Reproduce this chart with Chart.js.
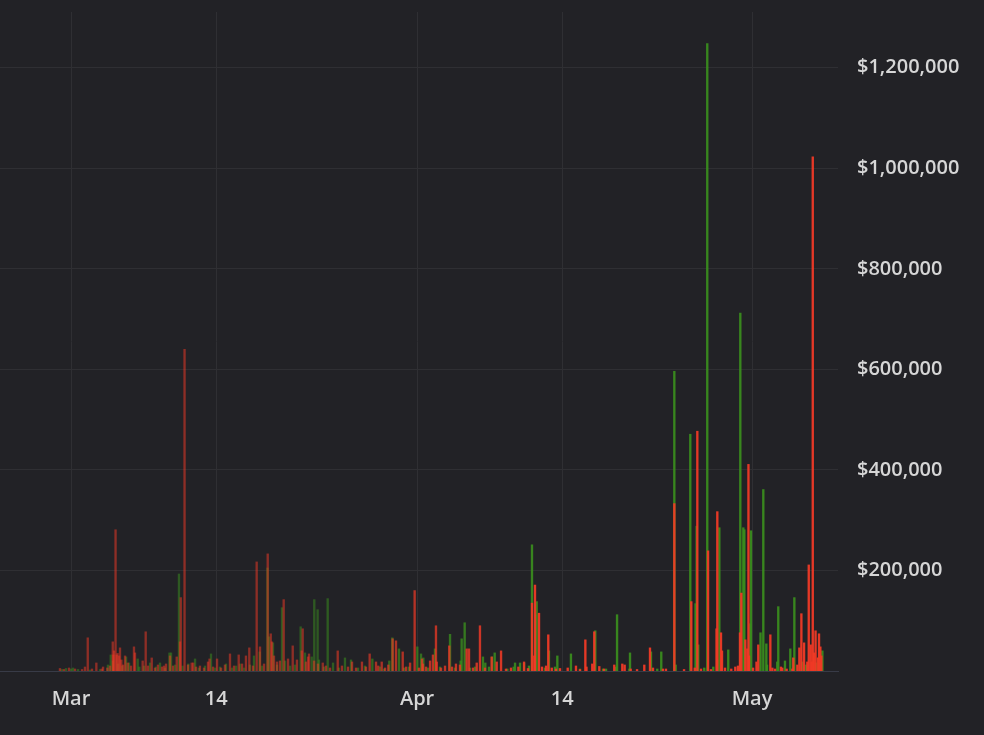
<!DOCTYPE html>
<html>
<head>
<meta charset="utf-8">
<script src="https://cdn.jsdelivr.net/npm/chart.js@4.4.1/dist/chart.umd.min.js"></script>
<style>
  html, body { margin: 0; padding: 0; background: #222226; }
  #wrap { width: 984px; height: 735px; position: relative; }
</style>
</head>
<body>
<div id="wrap"><canvas id="volumeChart"></canvas></div>
<script>
// x = days since Mar 1, volume in thousands of $
var sellDays = [
  -0.99, -0.63, -0.18, 0.36, 0.99, 1.25, 1.50, 1.88, 2.27, 2.75, 2.87, 3.25, 3.49, 3.74, 3.79, 3.85,
  3.99, 4.09, 4.17, 4.30, 4.39, 4.51, 4.66, 4.84, 5.08, 5.37, 5.64, 5.73, 6.42, 6.69, 6.90, 7.23,
  7.52, 7.79, 8.15, 8.33, 8.51, 8.87, 9.14, 9.47, 9.76, 9.83, 10.17, 10.48, 10.81, 10.95, 11.20, 11.55,
  11.91, 12.27, 12.41, 12.72, 13.08, 13.44, 13.79, 14.24, 14.60, 15.02, 15.32, 15.67, 15.97, 16.30, 16.63, 16.93,
  17.29, 17.62, 17.89, 18.00, 18.18, 18.45, 18.72, 19.05, 19.44, 19.86, 20.24, 20.66, 20.75, 21.05, 21.23, 21.32,
  21.77, 22.12, 22.55, 22.84, 23.20, 23.89, 24.27, 24.81, 25.17, 25.53, 26.06, 26.42, 26.75, 27.32, 27.52, 27.83,
  28.13, 28.42, 28.81, 29.11, 29.71, 30.01, 30.37, 30.78, 31.17, 31.44, 31.53, 31.80, 32.16, 32.42, 32.69, 32.76,
  33.14, 33.50, 33.88, 34.13, 34.48, 34.84, 35.44, 35.65, 36.01, 36.34, 36.63, 37.08, 37.68, 38.13, 38.52, 38.96,
  39.41, 40.07, 40.58, 40.93, 41.29, 41.50, 41.56, 41.92, 42.19, 42.55, 42.75, 43.06, 43.44, 43.80, 44.49, 45.23,
  45.59, 46.07, 46.17, 46.69, 46.87, 47.32, 47.74, 48.66, 49.38, 49.59, 50.13, 50.70, 51.35, 51.86, 52.13, 53.02,
  53.29, 54.04, 54.91, 55.56, 55.87, 56.10, 56.43, 57.06, 57.32, 57.82, 57.89, 58.22, 58.31, 58.58, 59.14, 59.50,
  59.74, 59.92, 60.04, 60.40, 60.58, 60.68, 60.73, 61.09, 61.40, 61.56, 62.64, 62.82, 63.06, 63.59, 63.71, 64.10,
  64.61, 64.70, 65.06, 65.24, 65.42, 65.66, 65.95, 66.08, 66.26, 66.35, 66.44, 66.55, 66.69, 66.89, 67.00, 67.12,
  67.21
];
var sellVolume = [
  5, 3, 6, 4, 3, 8, 66, 4, 16, 4, 8, 6, 10, 58, 32, 40,
  281, 32, 35, 30, 46, 22, 12, 30, 16, 10, 48, 36, 20, 78, 10, 26,
  6, 12, 8, 10, 14, 30, 10, 28, 58, 146, 640, 12, 16, 16, 8, 10,
  6, 18, 24, 8, 24, 6, 12, 34, 10, 32, 14, 30, 46, 10, 217, 48,
  14, 233, 74, 58, 30, 18, 20, 142, 24, 50, 22, 40, 84, 18, 28, 34,
  20, 14, 16, 10, 6, 40, 10, 8, 18, 6, 18, 8, 34, 18, 10, 18,
  6, 12, 64, 60, 38, 8, 16, 160, 6, 24, 14, 8, 20, 32, 90, 18,
  6, 10, 50, 8, 14, 12, 44, 44, 6, 16, 90, 6, 28, 18, 40, 4,
  6, 8, 18, 5, 135, 30, 171, 115, 8, 10, 72, 6, 4, 5, 6, 10,
  3, 62, 8, 14, 78, 9, 4, 12, 14, 12, 4, 3, 12, 46, 6, 4,
  4, 333, 3, 138, 6, 477, 4, 239, 3, 84, 317, 76, 40, 6, 4, 8,
  10, 76, 155, 62, 44, 411, 30, 6, 18, 52, 72, 6, 4, 8, 6, 4,
  4, 26, 12, 46, 114, 56, 18, 211, 52, 18, 1023, 36, 80, 26, 74, 48,
  30
];
var buyDays = [
  -0.81, -0.45, 0.00, 0.18, 0.63, 1.70, 2.60, 3.31, 3.56, 3.76, 4.21, 4.57, 4.93, 5.20, 5.97, 6.12,
  6.54, 7.08, 7.61, 7.97, 8.42, 8.82, 8.96, 9.32, 9.67, 9.99, 10.51, 11.11, 11.46, 12.00, 12.54, 12.90,
  13.35, 13.88, 14.42, 14.78, 15.14, 15.50, 16.03, 16.39, 16.90, 17.11, 17.60, 17.74, 18.09, 18.45, 18.90, 19.17,
  19.62, 20.06, 20.57, 20.96, 21.56, 21.79, 22.09, 22.21, 22.66, 22.99, 23.47, 24.00, 24.54, 25.08, 25.71, 26.33,
  26.99, 27.68, 28.04, 28.51, 28.78, 29.38, 29.83, 30.27, 31.02, 31.35, 31.56, 31.98, 32.60, 33.05, 33.95, 34.40,
  34.90, 34.99, 35.26, 35.74, 36.19, 36.90, 37.11, 37.44, 37.71, 37.95, 39.08, 39.65, 39.77, 40.22, 40.58, 41.02,
  41.29, 41.65, 41.71, 42.46, 42.81, 43.35, 43.56, 44.78, 45.59, 46.96, 47.65, 47.92, 48.82, 48.91, 50.01, 50.07,
  51.95, 52.51, 52.87, 54.04, 54.16, 55.47, 55.94, 56.04, 56.18, 56.72, 56.99, 57.53, 57.93, 58.07, 58.87, 59.95,
  60.22, 60.31, 60.75, 60.85, 60.91, 61.76, 62.01, 62.28, 62.34, 63.26, 63.35, 63.95, 64.43, 64.71, 64.79, 65.50,
  65.84, 66.73, 66.94, 67.12, 67.30
];
var buyVolume = [
  3, 5, 4, 6, 3, 2, 3, 12, 32, 20, 14, 10, 28, 16, 24, 8,
  10, 16, 8, 16, 6, 36, 36, 12, 193, 10, 14, 24, 6, 10, 34, 6,
  8, 14, 6, 10, 14, 6, 12, 30, 38, 10, 205, 68, 56, 12, 126, 20,
  10, 12, 88, 36, 28, 142, 122, 22, 8, 144, 16, 6, 26, 22, 6, 10,
  24, 8, 4, 20, 66, 44, 6, 8, 48, 34, 26, 6, 44, 8, 73, 6,
  20, 64, 96, 6, 8, 28, 16, 8, 28, 36, 4, 8, 16, 16, 16, 10,
  251, 112, 138, 6, 40, 8, 30, 34, 4, 80, 4, 4, 8, 112, 4, 36,
  38, 4, 38, 596, 12, 471, 134, 288, 52, 6, 1248, 8, 22, 285, 42, 712,
  285, 281, 30, 94, 279, 76, 361, 54, 12, 18, 128, 20, 44, 26, 146, 18,
  12, 16, 26, 16, 40
];
var tickDays = [0, 13, 31, 44, 61];
var tickLabels = ['Mar', '14', 'Apr', '14', 'May'];
var priceTicks = [200000, 400000, 600000, 800000, 1000000, 1200000];

function toPoints(days, vols) {
  var pts = [];
  for (var i = 0; i < days.length; i++) {
    pts.push({ x: days[i], y: vols[i] * 1000 });
  }
  return pts;
}

// bars get less see-through towards May
function barColor(rgb) {
  return function(ctx) {
    var x = ctx.raw ? ctx.raw.x : 0;
    var t = Math.min(1, Math.max(0, (x - 22) / 20));
    var a = 0.52 + 0.43 * t;
    return 'rgba(' + rgb + ',' + a.toFixed(2) + ')';
  };
}

var fontTicks = { family: '"Open Sans", "Noto Sans", sans-serif', size: 20, weight: '600' };

new Chart(document.getElementById('volumeChart'), {
  type: 'bar',
  data: {
    datasets: [{
      label: 'Sell',
      data: toPoints(sellDays, sellVolume),
      backgroundColor: barColor('240,58,38'),
      borderWidth: 0,
      barThickness: 1.7,
      grouped: false
    }, {
      label: 'Buy',
      data: toPoints(buyDays, buyVolume),
      backgroundColor: barColor('58,140,30'),
      borderWidth: 0,
      barThickness: 1.7,
      grouped: false
    }]
  },
  options: {
    responsive: true,
    maintainAspectRatio: false,
    animation: false,
    layout: { padding: { top: 12, left: 0, right: 0, bottom: 0 } },
    plugins: {
      legend: { display: false },
      tooltip: { enabled: false }
    },
    scales: {
      x: {
        type: 'linear',
        offset: false,
        min: -6.36,
        max: 68.7,
        grid: { color: '#2f2f33', drawTicks: false, offset: false },
        border: { color: '#383b47' },
        afterBuildTicks: function(scale) {
          scale.ticks = tickDays.map(function(v) { return { value: v }; });
        },
        afterFit: function(scale) {
          scale.height = 64;
          scale.paddingLeft = 0;
          scale.paddingRight = 0;
        },
        ticks: {
          color: '#d6d6d6',
          font: fontTicks,
          padding: 16,
          autoSkip: false,
          maxRotation: 0,
          callback: function(value, index) { return tickLabels[index]; }
        }
      },
      y: {
        position: 'right',
        min: 0,
        max: 1311000,
        grid: { color: '#2f2f33', drawTicks: false },
        border: { display: false },
        afterBuildTicks: function(scale) {
          scale.ticks = priceTicks.map(function(v) { return { value: v }; });
        },
        afterFit: function(scale) {
          scale.width = 146;
          scale.paddingTop = 0;
          scale.paddingBottom = 0;
        },
        ticks: {
          color: '#d6d6d6',
          font: fontTicks,
          padding: 19,
          callback: function(value) { return '$' + value.toLocaleString('en-US'); }
        }
      }
    }
  }
});
</script>
</body>
</html>
